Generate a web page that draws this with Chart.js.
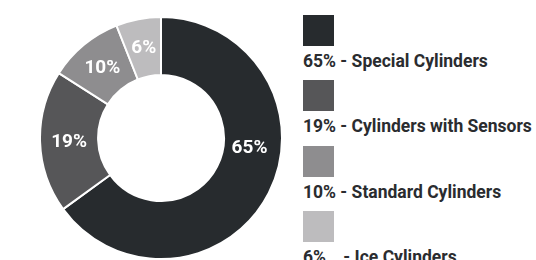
<!DOCTYPE html>
<html>
<head>
<meta charset="utf-8">
<script src="https://cdn.jsdelivr.net/npm/chart.js@4/dist/chart.umd.min.js"></script>
<style>
  html, body { margin: 0; padding: 0; background: #fff; overflow: hidden; }
  body { width: 536px; height: 260px; position: relative; font-family: Roboto, "Open Sans", sans-serif; }
  #pieBox { position: absolute; left: 39px; top: 16px; width: 244px; height: 244px; }
  #legend { position: absolute; left: 303px; top: 15px; margin: 0; padding: 0; list-style: none; }
  #legend li { height: 65.3px; }
  #legend .sw { display: block; width: 31px; height: 31px; }
  #legend .tx { display: block; margin-top: 5px; font-size: 17.5px; font-weight: 700; color: #2a2c2f; white-space: pre; line-height: 20px; }
</style>
</head>
<body>
<div id="pieBox"><canvas id="pie" width="244" height="244"></canvas></div>
<ul id="legend"></ul>
<script>
  const categories = ['Special Cylinders', 'Cylinders with Sensors', 'Standard Cylinders', 'Ice Cylinders'];
  const shares = [65, 19, 10, 6];
  const sliceColors = ['#272b2e', '#565658', '#8e8d8f', '#bdbcbe'];

  // legend html: square, then "xx% - name"
  const legend = document.getElementById('legend');
  categories.forEach((name, i) => {
    const li = document.createElement('li');
    const sw = document.createElement('span');
    sw.className = 'sw';
    sw.style.background = sliceColors[i];
    const tx = document.createElement('span');
    tx.className = 'tx';
    const pct = shares[i] + '%';
    tx.textContent = (pct.length < 3 ? pct + '   ' : pct) + ' - ' + name;
    li.appendChild(sw);
    li.appendChild(tx);
    legend.appendChild(li);
  });

  // white percentage text inside the slices
  const sliceLabels = {
    id: 'sliceLabels',
    afterDatasetsDraw(chart) {
      const ctx = chart.ctx;
      const meta = chart.getDatasetMeta(0);
      ctx.save();
      ctx.fillStyle = '#ffffff';
      ctx.font = 'bold 19px Roboto, sans-serif';
      ctx.textAlign = 'center';
      ctx.textBaseline = 'middle';
      meta.data.forEach((arc, i) => {
        const p = arc.getProps(['x', 'y', 'startAngle', 'endAngle', 'innerRadius', 'outerRadius'], true);
        let ang = (p.startAngle + p.endAngle) / 2;
        // big slice: keep label near the horizontal right side
        if (p.endAngle - p.startAngle > Math.PI && p.startAngle < 0.1 && p.endAngle > 0.1) ang = 0.1;
        const r = (p.innerRadius + p.outerRadius) / 2;
        ctx.fillText(shares[i] + '%', p.x + Math.cos(ang) * r - (i === 0 ? 3 : 0), p.y + Math.sin(ang) * r + 1);
      });
      ctx.restore();
    }
  };

  new Chart(document.getElementById('pie'), {
    type: 'doughnut',
    data: {
      labels: categories,
      datasets: [{
        data: shares,
        backgroundColor: sliceColors,
        borderColor: '#ffffff',
        borderWidth: 2
      }]
    },
    options: {
      responsive: false,
      animation: false,
      cutout: '52%',
      layout: { padding: 0 },
      plugins: { legend: { display: false }, tooltip: { enabled: false } }
    },
    plugins: [sliceLabels]
  });
</script>
</body>
</html>
